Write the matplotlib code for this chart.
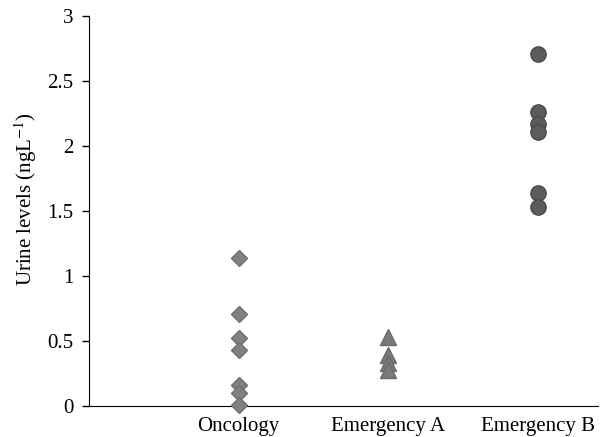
import matplotlib
matplotlib.use("Agg")
import matplotlib.pyplot as plt
from matplotlib.ticker import FuncFormatter

plt.rcParams['font.family'] = ['Liberation Serif', 'DejaVu Serif']
plt.rcParams['mathtext.fontset'] = 'stix'

categories = ["Oncology", "Emergency A", "Emergency B"]
oncology = [1.14, 0.71, 0.52, 0.43, 0.16, 0.10, 0.01]
emergency_a = [0.53, 0.39, 0.33, 0.28]
emergency_b = [2.71, 2.26, 2.17, 2.11, 1.64, 1.53]
yticks = [0, 0.5, 1, 1.5, 2, 2.5, 3]

fig = plt.figure(figsize=(6.02, 4.37), dpi=100)
ax = fig.add_axes([89/602, 1 - 406/437, 509/602, 390/437])

ax.plot([1]*len(oncology), oncology, linestyle='none', marker='D', markersize=8.5,
        color='#808080', markeredgecolor='#6f6f6f', clip_on=False, zorder=3)
ax.plot([2]*len(emergency_a), emergency_a, linestyle='none', marker='^', markersize=12,
        color='#7a7a7a', markeredgecolor='#6a6a6a', clip_on=False, zorder=3)
ax.plot([3]*len(emergency_b), emergency_b, linestyle='none', marker='o', markersize=11,
        color='#5c5c5c', markeredgecolor='#4a4a4a', clip_on=False, zorder=3)

ax.set_xlim(0, 3.4)
ax.set_ylim(0, 3)
ax.set_xticks([1, 2, 3])
ax.set_xticklabels(categories, fontsize=15)
ax.set_yticks(yticks)
ax.yaxis.set_major_formatter(FuncFormatter(lambda v, p: f"{v:g}"))
ax.tick_params(axis='y', labelsize=15, length=5, direction='out', width=1, pad=6)
ax.tick_params(axis='x', length=0, pad=8)
ax.spines['top'].set_visible(False)
ax.spines['right'].set_visible(False)
ax.set_ylabel(r"Urine levels (ngL$^{-1}$)", fontsize=15)
ax.yaxis.set_label_coords(-0.098, 0.53)

fig.savefig("out.png", dpi=100)
